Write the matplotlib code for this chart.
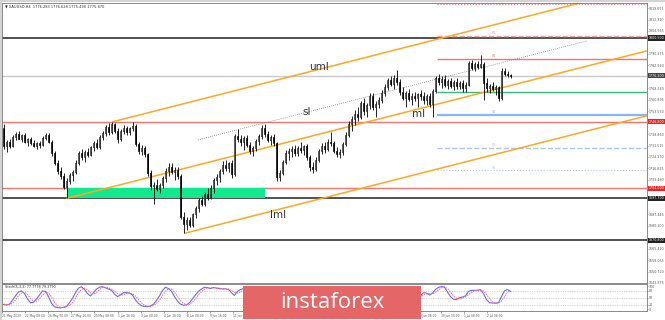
import numpy as np
import matplotlib
matplotlib.use("Agg")
import matplotlib.pyplot as plt
from matplotlib.patches import Rectangle

# XAUUSD H4 candles
opens = [1743.0, 1731.0, 1733.5, 1731.5, 1737.0, 1739.0, 1736.0, 1738.0, 1734.0, 1735.5,
         1733.0, 1731.5, 1733.0, 1732.0, 1736.5, 1738.5, 1734.0, 1726.5, 1720.5, 1715.0,
         1712.0, 1705.0, 1709.0, 1712.5, 1714.5, 1720.5, 1726.5, 1724.0, 1727.5, 1725.5,
         1730.5, 1733.0, 1730.5, 1737.0, 1739.5, 1743.5, 1740.0, 1745.0, 1741.0, 1735.5,
         1741.0, 1743.0, 1740.0, 1742.5, 1744.0, 1732.5, 1728.0, 1730.0, 1726.0, 1714.0,
         1705.5, 1706.5, 1703.5, 1706.0, 1710.5, 1715.5, 1718.0, 1714.5, 1716.0, 1712.0,
         1686.0, 1681.0, 1683.5, 1680.5, 1687.5, 1691.5, 1696.5, 1694.0, 1700.5, 1698.0,
         1704.5, 1709.5, 1711.5, 1715.0, 1719.0, 1717.0, 1720.0, 1713.0, 1737.5, 1736.0,
         1734.0, 1736.5, 1732.0, 1728.0, 1730.0, 1734.5, 1737.5, 1742.5, 1739.0, 1735.0,
         1737.0, 1733.0, 1711.5, 1714.0, 1721.0, 1726.5, 1728.0, 1729.5, 1726.5, 1730.0,
         1728.5, 1731.0, 1724.0, 1718.0, 1716.5, 1722.5, 1728.0, 1731.5, 1729.0, 1734.0,
         1733.0, 1728.0, 1726.0, 1727.5, 1732.5, 1738.5, 1745.5, 1748.5, 1752.0, 1750.0,
         1758.5, 1753.5, 1757.5, 1763.0, 1756.5, 1758.0, 1761.0, 1765.5, 1769.0, 1773.5,
         1771.0, 1775.0, 1772.0, 1766.0, 1762.0, 1765.0, 1761.5, 1763.5, 1762.0, 1764.5,
         1763.0, 1760.5, 1763.0, 1758.0, 1766.5, 1774.5, 1772.0, 1774.0, 1770.5, 1773.0,
         1769.5, 1772.5, 1770.0, 1771.5, 1768.5, 1770.5, 1784.5, 1781.5, 1783.5, 1782.0,
         1784.0, 1771.5, 1768.5, 1769.5, 1767.5, 1769.0, 1762.0, 1779.5, 1777.5, 1776.5]
highs = [1745.5, 1735.0, 1736.0, 1738.0, 1740.5, 1741.0, 1739.0, 1739.5, 1736.5, 1737.0,
         1735.0, 1734.0, 1734.5, 1737.5, 1739.5, 1739.5, 1735.0, 1728.0, 1722.0, 1717.5,
         1714.0, 1710.5, 1714.0, 1716.0, 1722.0, 1728.0, 1729.0, 1728.5, 1730.0, 1731.5,
         1734.5, 1736.0, 1738.5, 1741.0, 1744.5, 1746.0, 1746.8, 1746.0, 1743.0, 1742.0,
         1744.5, 1744.0, 1743.5, 1746.5, 1745.0, 1734.0, 1732.0, 1731.5, 1727.0, 1716.0,
         1708.0, 1710.0, 1707.5, 1712.0, 1717.0, 1720.6, 1720.0, 1717.5, 1718.0, 1713.0,
         1689.0, 1685.5, 1686.0, 1688.5, 1693.0, 1698.0, 1699.0, 1702.0, 1704.5, 1706.0,
         1711.0, 1713.0, 1716.5, 1721.5, 1722.0, 1721.0, 1722.5, 1739.0, 1742.0, 1738.5,
         1737.5, 1738.0, 1734.0, 1731.5, 1736.0, 1739.0, 1744.9, 1745.0, 1741.0, 1738.5,
         1739.0, 1734.0, 1716.0, 1722.5, 1728.5, 1730.0, 1731.5, 1732.0, 1731.0, 1733.5,
         1732.0, 1732.5, 1725.5, 1721.0, 1724.0, 1729.5, 1733.0, 1734.0, 1735.5, 1740.5,
         1734.5, 1730.5, 1729.0, 1733.5, 1740.0, 1747.0, 1750.5, 1754.0, 1756.5, 1760.0,
         1762.0, 1759.0, 1765.0, 1765.5, 1760.0, 1762.5, 1767.0, 1771.0, 1775.0, 1776.0,
         1776.5, 1780.0, 1774.0, 1769.0, 1766.5, 1767.5, 1765.0, 1766.0, 1765.5, 1767.0,
         1766.0, 1764.5, 1765.0, 1768.0, 1776.0, 1777.5, 1776.0, 1777.0, 1774.0, 1775.0,
         1773.5, 1774.5, 1773.0, 1773.5, 1772.0, 1786.0, 1786.5, 1785.0, 1786.0, 1789.6,
         1785.0, 1774.5, 1771.0, 1772.5, 1770.5, 1770.0, 1781.0, 1781.5, 1779.0, 1777.5]
lows = [1729.0, 1727.5, 1730.0, 1730.5, 1735.0, 1735.5, 1733.5, 1733.0, 1731.0, 1732.0,
        1730.5, 1729.5, 1730.0, 1731.0, 1735.0, 1733.0, 1725.0, 1719.0, 1713.5, 1710.0,
        1703.5, 1697.7, 1707.0, 1709.0, 1713.0, 1719.0, 1722.5, 1721.0, 1724.0, 1724.5,
        1728.0, 1729.0, 1729.5, 1735.0, 1737.5, 1738.0, 1739.0, 1739.5, 1733.0, 1734.5,
        1739.0, 1738.5, 1738.0, 1741.0, 1731.0, 1726.0, 1725.5, 1724.0, 1712.0, 1703.0,
        1693.8, 1702.5, 1701.0, 1704.0, 1708.0, 1712.0, 1713.0, 1709.5, 1710.0, 1684.5,
        1675.3, 1677.5, 1679.0, 1679.5, 1685.0, 1689.0, 1692.5, 1693.0, 1696.5, 1697.0,
        1701.0, 1706.0, 1708.0, 1713.5, 1715.0, 1714.5, 1710.5, 1712.0, 1734.0, 1731.5,
        1728.5, 1730.5, 1726.0, 1725.0, 1728.0, 1732.0, 1736.0, 1737.0, 1733.5, 1732.0,
        1731.5, 1708.5, 1709.0, 1712.5, 1719.5, 1722.0, 1724.0, 1725.0, 1724.5, 1727.0,
        1725.5, 1722.0, 1715.5, 1714.0, 1715.0, 1721.0, 1726.0, 1727.0, 1728.0, 1731.5,
        1726.5, 1724.0, 1723.5, 1725.5, 1731.0, 1737.0, 1741.0, 1744.5, 1747.0, 1748.5,
        1751.0, 1749.5, 1755.0, 1754.5, 1749.5, 1755.5, 1759.0, 1763.5, 1767.0, 1769.5,
        1768.0, 1770.5, 1764.0, 1760.5, 1756.0, 1760.0, 1757.5, 1760.0, 1756.5, 1761.0,
        1758.0, 1757.5, 1756.0, 1750.0, 1765.5, 1770.5, 1768.5, 1769.0, 1767.5, 1768.5,
        1767.0, 1768.0, 1767.5, 1766.0, 1766.0, 1769.5, 1780.0, 1779.5, 1780.5, 1781.0,
        1761.0, 1766.0, 1765.5, 1766.5, 1764.0, 1760.0, 1761.0, 1776.0, 1775.5, 1775.0]
closes = [1731.0, 1733.5, 1731.5, 1737.0, 1739.0, 1736.0, 1738.0, 1734.0, 1735.5, 1733.0,
          1731.5, 1733.0, 1732.0, 1736.5, 1738.5, 1734.0, 1726.5, 1720.5, 1715.0, 1712.0,
          1705.0, 1709.0, 1712.5, 1714.5, 1720.5, 1726.5, 1724.0, 1727.5, 1725.5, 1730.5,
          1733.0, 1730.5, 1737.0, 1739.5, 1743.5, 1740.0, 1745.0, 1741.0, 1735.5, 1741.0,
          1743.0, 1740.0, 1742.5, 1744.0, 1732.5, 1728.0, 1730.0, 1726.0, 1714.0, 1705.5,
          1706.5, 1703.5, 1706.0, 1710.5, 1715.5, 1718.0, 1714.5, 1716.0, 1712.0, 1686.0,
          1681.0, 1683.5, 1680.5, 1687.5, 1691.5, 1696.5, 1694.0, 1700.5, 1698.0, 1704.5,
          1709.5, 1711.5, 1715.0, 1719.0, 1717.0, 1720.0, 1713.0, 1737.5, 1736.0, 1734.0,
          1736.5, 1732.0, 1728.0, 1730.0, 1734.5, 1737.5, 1742.5, 1739.0, 1735.0, 1737.0,
          1733.0, 1711.5, 1714.0, 1721.0, 1726.5, 1728.0, 1729.5, 1726.5, 1730.0, 1728.5,
          1731.0, 1724.0, 1718.0, 1716.5, 1722.5, 1728.0, 1731.5, 1729.0, 1734.0, 1733.0,
          1728.0, 1726.0, 1727.5, 1732.5, 1738.5, 1745.5, 1748.5, 1752.0, 1750.0, 1758.5,
          1753.5, 1757.5, 1763.0, 1756.5, 1758.0, 1761.0, 1765.5, 1769.0, 1773.5, 1771.0,
          1775.0, 1772.0, 1766.0, 1762.0, 1765.0, 1761.5, 1763.5, 1762.0, 1764.5, 1763.0,
          1760.5, 1763.0, 1758.0, 1766.5, 1774.5, 1772.0, 1774.0, 1770.5, 1773.0, 1769.5,
          1772.5, 1770.0, 1771.5, 1768.5, 1770.5, 1784.5, 1781.5, 1783.5, 1782.0, 1784.0,
          1771.5, 1768.5, 1769.5, 1767.5, 1769.0, 1762.0, 1779.5, 1777.5, 1776.5, 1775.9]

# Stochastic(5,3,3): %K (blue) and %D (red dotted)
stoch_k = [20, 18, 22, 40, 58, 75, 80, 68, 45, 28, 30, 45, 62, 80, 78, 55, 25, 10, 7, 6,
           8, 12, 28, 48, 72, 92, 98, 86, 68, 58, 72, 88, 96, 98, 93, 88, 82, 66, 55, 62,
           72, 73, 70, 62, 40, 25, 15, 12, 11, 14, 22, 38, 58, 82, 96, 90, 78, 55, 35, 22,
           17, 19, 28, 45, 62, 78, 88, 96, 94, 90, 95, 92, 90, 88, 89, 86, 72, 60, 78, 86,
           90, 80, 62, 45, 55, 72, 88, 85, 70, 62, 55, 20, 15, 30, 55, 68, 75, 68, 70, 66,
           68, 45, 25, 18, 35, 58, 75, 72, 80, 85, 60, 40, 35, 55, 75, 90, 92, 95, 88, 92,
           80, 78, 88, 70, 58, 70, 85, 92, 96, 90, 88, 85, 62, 40, 42, 38, 45, 48, 55, 58,
           72, 70, 62, 70, 86, 95, 99, 96, 75, 55, 43, 42, 50, 53, 58, 78, 82, 82, 83, 85,
           68, 42, 28, 27, 26, 28, 55, 80, 86, 77.8]
stoch_d = [22, 20, 20, 27, 40, 58, 71, 74, 64, 47, 34, 34, 46, 62, 73, 71, 53, 30, 14, 8,
           7, 9, 16, 29, 49, 71, 87, 92, 84, 71, 66, 73, 85, 94, 96, 93, 88, 79, 68, 61,
           63, 69, 72, 68, 57, 42, 27, 17, 13, 12, 16, 25, 39, 59, 79, 89, 88, 74, 56, 37,
           25, 19, 21, 31, 45, 62, 76, 87, 93, 93, 93, 92, 92, 90, 89, 88, 82, 73, 70, 75,
           85, 85, 74, 62, 54, 57, 72, 82, 81, 72, 62, 46, 30, 22, 33, 51, 66, 70, 71, 68,
           68, 60, 46, 29, 26, 37, 56, 68, 76, 79, 75, 62, 45, 43, 55, 73, 86, 92, 92, 92,
           87, 83, 82, 79, 72, 66, 71, 82, 91, 93, 91, 88, 78, 62, 48, 40, 42, 44, 49, 54,
           62, 67, 68, 67, 73, 84, 93, 97, 90, 75, 58, 47, 45, 48, 54, 63, 73, 81, 82, 83,
           79, 65, 46, 32, 27, 27, 36, 54, 74, 79.379]

# levels
full_levels = {1800.5: ("#333333", "-", 1.2), 1776.2: ("#c8c8d2", "-", 1.0),
               1746.8: ("#f07474", "-", 1.0), 1704.0: ("#f07474", "-", 1.0),
               1697.7: ("#333333", "-", 1.2), 1670.8: ("#333333", "-", 1.2)}
pivot_levels = [1822.2, 1801.8, 1787.1, 1766.0, 1751.3, 1730.2, 1715.6]
pivot_names = ["R3", "R2", "R1", "PP", "S1", "S2", "S3"]
pivot_colors = ["#f08080", "#f4a0a0", "#f07474", "#3cb878", "#8ab4f8", "#a8c8f0", "#b0c8f0"]
pivot_styles = [":", "--", "-", "-", "-", "--", ":"]
pivot_widths = [0.8, 1.0, 1.0, 1.0, 1.6, 1.0, 0.8]
pivot_start = 144.5

# pitchfork anchors (bar index, price)
pf_a = (21.2, 1697.7)
pf_b = (36.5, 1746.8)
pf_c = (60.5, 1675.3)
sl_point = (78.2, 1741.7)

zone = (21.2, 87.2, 1697.7, 1704.0)

price_ticks = [1819.655 - 7.345 * k for k in range(25)]
xlabels = ["21 May 2020", "22 May 08:00", "26 May 00:00", "27 May 16:00", "29 May 08:00",
           "1 Jun 16:00", "3 Jun 08:00", "4 Jun 16:00", "8 Jun 08:00", "9 Jun 16:00",
           "11 Jun 08:00", "12 Jun 16:00", "16 Jun 08:00", "17 Jun 16:00", "19 Jun 08:00",
           "22 Jun 16:00", "24 Jun 08:00", "25 Jun 16:00", "29 Jun 08:00", "30 Jun 16:00",
           "1 Jul 08:00", "2 Jul 08:00"]

tags = [(1800.5, "#222222"), (1776.2, "#444444"), (1746.8, "#ee2222"),
        (1704.0, "#ee2222"), (1697.7, "#222222"), (1670.8, "#222222")]

W, H = 665, 320
fig = plt.figure(figsize=(W / 100, H / 100), dpi=100)
fig.patch.set_facecolor("white")

def fx(px):
    return px / W

def fy(py):
    return 1 - py / H

ax = fig.add_axes([fx(2), fy(283), fx(645), (283 - 3) / H])
axs = fig.add_axes([fx(2), fy(311), fx(645), (311 - 284) / H])

xmin, xmax = -0.5, 214.5
ax.set_xlim(xmin, xmax)
ax.set_ylim(1644.0, 1822.9)

n = len(closes)
idx = np.arange(n)
o = np.array(opens); c = np.array(closes)
hi = np.array(highs); lo = np.array(lows)

# level lines
for p, (col, ls, lw) in full_levels.items():
    ax.axhline(p, color=col, ls=ls, lw=lw, zorder=1)
for p, nm, col, ls, lw in zip(pivot_levels, pivot_names, pivot_colors, pivot_styles, pivot_widths):
    ax.hlines(p, pivot_start, xmax, colors=col, linestyles=ls, lw=lw, zorder=1)
    ax.text(163.5, p + 0.4, nm, fontsize=2.4, color=col, ha="center", va="bottom")

ax.add_patch(Rectangle((zone[0], zone[2]), zone[1] - zone[0], zone[3] - zone[2],
                       facecolor="#12e88e", edgecolor="none", zorder=1.5))

# pitchfork
mid = ((pf_b[0] + pf_c[0]) / 2, (pf_b[1] + pf_c[1]) / 2)
slope = (mid[1] - pf_a[1]) / (mid[0] - pf_a[0])
for (x0, y0) in (pf_a, pf_b, pf_c):
    ax.plot([x0, xmax], [y0, y0 + slope * (xmax - x0)], color="#ffa726", lw=1.1, zorder=2)
sl_x = np.array([64.8, 194.5])
ax.plot(sl_x, sl_point[1] + slope * (sl_x - sl_point[0]), color="#808080", lw=0.6,
        ls=(0, (1, 1.5)), zorder=2)

ax.text(105, 1782.0, "uml", fontsize=7.5, color="#333333", ha="center", va="center")
ax.text(101.2, 1753.2, "sl", fontsize=7.5, color="#333333", ha="center", va="center")
ax.text(138.2, 1752.0, "ml", fontsize=7.5, color="#333333", ha="center", va="center")
ax.text(91.5, 1686.8, "lml", fontsize=7.5, color="#333333", ha="center", va="center")

# candles
ax.vlines(idx, lo, hi, color="black", lw=0.6, zorder=3)
up = c >= o
ax.bar(idx[up], (c - o)[up], bottom=o[up], width=0.62, color="white",
       edgecolor="black", lw=0.45, zorder=4)
ax.bar(idx[~up], (o - c)[~up], bottom=c[~up], width=0.62, color="black",
       edgecolor="black", lw=0.45, zorder=4)

# right price scale: plain ticks, except where a coloured tag sits
ax.set_xticks([])
ax.yaxis.tick_right()
ppp = (1822.9 - 1644.0) / 280
shown = [t for t in price_ticks if min(abs(t - p) for p, _ in tags) / ppp > 6]
ax.set_yticks(shown)
ax.set_yticklabels(["%.3f" % t for t in shown])
ax.tick_params(axis="y", labelsize=2.3, length=1, width=0.4, pad=0.4, colors="#555555")
for s in ax.spines.values():
    s.set_color("#777777"); s.set_linewidth(0.6)

for p, col in tags:
    ax.text(1.003, p, "%.3f" % p, transform=ax.get_yaxis_transform(), fontsize=2.3,
            color="white", va="center", ha="left",
            bbox=dict(boxstyle="square,pad=0.2", fc=col, ec="none"))

ax.text(0.004, 0.995, "\u25bc XAUUSD,H4  1776.283 1776.628 1775.490 1775.870",
        transform=ax.transAxes, fontsize=2.6, color="#333333", va="top", ha="left")

# stochastic panel
axs.set_xlim(xmin, xmax)
axs.set_ylim(-8, 110)
for lv in (80, 50, 20):
    axs.axhline(lv, color="#b0b0b0", lw=0.5, ls=(0, (1, 1.5)))
axs.plot(idx, stoch_k, color="#6a6aff", lw=0.8)
axs.plot(idx, stoch_d, color="#ff6a6a", lw=0.7, ls=(0, (1.5, 1)))
axs.yaxis.tick_right()
axs.set_yticks([100, 80, 50, 20, 0])
axs.set_yticklabels(["100", "80", "50", "20", "0"])
axs.tick_params(axis="y", labelsize=2.3, length=1, width=0.4, pad=0.4, colors="#555555")
for s in axs.spines.values():
    s.set_color("#777777"); s.set_linewidth(0.6)
axs.text(0.004, 0.97, "Stoch(5,3,3) 77.7778 79.3790", transform=axs.transAxes,
         fontsize=2.4, color="#333333", va="top", ha="left")
xt = [-0.5 + 7.7 * k for k in range(len(xlabels))]
axs.set_xticks(xt)
axs.set_xticklabels(xlabels, ha="left")
axs.tick_params(axis="x", labelsize=2.1, length=1.2, width=0.4, pad=0.6, colors="#555555")

# window border
fig.add_artist(Rectangle((0, fy(2)), 1, 2 / H, transform=fig.transFigure,
                         facecolor="#d4d4d4", edgecolor="none"))
fig.add_artist(Rectangle((0, 0), fx(1.5), 1, transform=fig.transFigure,
                         facecolor="#d4d4d4", edgecolor="none"))

# watermark
fig.add_artist(Rectangle((fx(243), fy(319)), fx(421 - 243), (319 - 286) / H,
                         transform=fig.transFigure, facecolor="#e46666",
                         edgecolor="none", zorder=10))
fig.text(fx(332), fy(302.5), "instaforex", fontsize=16, color="white",
         family="Open Sans", ha="center", va="center", zorder=11)

fig.savefig("out.png", dpi=100)
